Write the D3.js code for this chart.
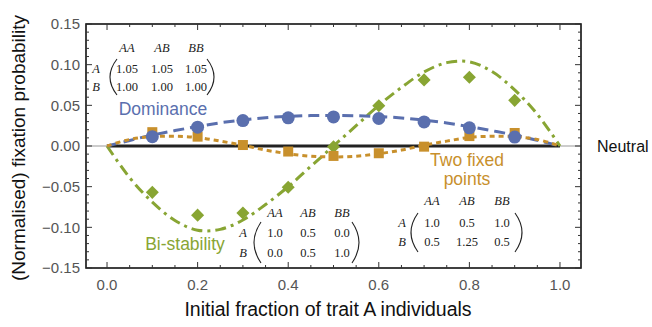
<!DOCTYPE html>
<html lang="en">
	<head>
		<meta charset="utf-8">
		<title>Fixation probability</title>
		<script type="text/javascript" src="https://cdnjs.cloudflare.com/ajax/libs/d3/7.8.5/d3.min.js"></script>
		<style type="text/css">
			body { margin: 0; background: white; }
			text { font-family: "Liberation Sans", Arial, sans-serif; }
			.mat text { font-family: "Liberation Serif", "DejaVu Serif", serif; font-size: 12.5px; fill: #222; }
		</style>
	</head>
	<body>
		<script type="text/javascript">

			//Size
			var w = 652;
			var h = 327;

			// simulation points (x = 0.1 .. 0.9)
			var simX = [0.1, 0.2, 0.3, 0.4, 0.5, 0.6, 0.7, 0.8, 0.9];
			var domPts = [0.0115, 0.0232, 0.0313, 0.0346, 0.0358, 0.0338, 0.0296, 0.0224, 0.0110];
			var twoPts = [0.0170, 0.0115, 0.0012, -0.0068, -0.0122, -0.0089, -0.0008, 0.0122, 0.0160];
			var biPts  = [-0.0570, -0.0850, -0.0824, -0.0507, -0.0010, 0.0496, 0.0813, 0.0846, 0.0561];

			// theory curves, read at steps of 0.05
			var curveX = [0, 0.05, 0.1, 0.15, 0.2, 0.25, 0.3, 0.35, 0.4, 0.45, 0.5,
			              0.55, 0.6, 0.65, 0.7, 0.75, 0.8, 0.85, 0.9, 0.95, 1];
			var domCurve = [0, 0.0068, 0.0135, 0.019, 0.024, 0.0285, 0.032, 0.0348, 0.0365, 0.0374, 0.0376,
			                0.0372, 0.0362, 0.0345, 0.0318, 0.0283, 0.0238, 0.0188, 0.0135, 0.0070, 0];
			var twoCurve = [0, 0.008, 0.0115, 0.012, 0.0105, 0.006, 0.001, -0.005, -0.0095, -0.0125, -0.0135,
			                -0.0125, -0.0095, -0.005, 0.001, 0.006, 0.0105, 0.012, 0.0115, 0.008, 0];
			var biCurve  = [0, -0.039, -0.069, -0.0915, -0.1035, -0.1025, -0.091, -0.072, -0.05, -0.025, 0,
			                0.025, 0.05, 0.072, 0.091, 0.1025, 0.1035, 0.0915, 0.069, 0.039, 0];

			var xTicks = [0, 0.2, 0.4, 0.6, 0.8, 1.0];
			var yTicks = [-0.15, -0.10, -0.05, 0, 0.05, 0.10, 0.15];

			var blue = '#5a6fae', orange = '#c8902c', green = '#88a533';

			var xScale = d3.scaleLinear()
							.domain([-0.0464, 1.0464])
							.range([86, 581]);
			var yScale = d3.scaleLinear()
							.domain([-0.15, 0.15])
							.range([268, 24]);

			var svg = d3.select('body')
							.append('svg')
							.attr('width', w)
							.attr('height', h);

			// thin zero line across the frame
			svg.append('line')
				.attr('x1', xScale.range()[0]).attr('x2', xScale.range()[1])
				.attr('y1', yScale(0)).attr('y2', yScale(0))
				.attr('stroke', '#999').attr('stroke-width', 1);

			var line = d3.line()
							.x((d, i) => xScale(curveX[i]))
							.y(d => yScale(d))
							.curve(d3.curveCatmullRom);

			// neutral
			svg.append('line')
				.attr('x1', xScale(0)).attr('x2', xScale(1))
				.attr('y1', yScale(0)).attr('y2', yScale(0))
				.attr('stroke', '#222').attr('stroke-width', 3.2);

			svg.append('path').datum(biCurve)
				.attr('d', line).attr('fill', 'none')
				.attr('stroke', green).attr('stroke-width', 3)
				.attr('stroke-dasharray', '11,5,3,5');
			svg.append('path').datum(domCurve)
				.attr('d', line).attr('fill', 'none')
				.attr('stroke', blue).attr('stroke-width', 3)
				.attr('stroke-dasharray', '11,6');
			svg.append('path').datum(twoCurve)
				.attr('d', line).attr('fill', 'none')
				.attr('stroke', orange).attr('stroke-width', 3)
				.attr('stroke-dasharray', '5,4');

			// markers
			svg.append('g').attr('fill', green)
				.selectAll('path').data(biPts).enter().append('path')
				.attr('d', d3.symbol(d3.symbolSquare, 85))
				.attr('transform', (d, i) => `translate(${xScale(simX[i])},${yScale(d)}) rotate(45)`);
			svg.append('g').attr('fill', orange)
				.selectAll('rect').data(twoPts).enter().append('rect')
				.attr('x', (d, i) => xScale(simX[i]) - 5)
				.attr('y', d => yScale(d) - 5)
				.attr('width', 10).attr('height', 10);
			svg.append('g').attr('fill', blue)
				.selectAll('circle').data(domPts).enter().append('circle')
				.attr('cx', (d, i) => xScale(simX[i]))
				.attr('cy', d => yScale(d))
				.attr('r', 6.5);

			// frame with inward ticks
			var frame = svg.append('g');
			frame.append('rect')
				.attr('x', 86).attr('y', 24)
				.attr('width', 581 - 86).attr('height', 268 - 24)
				.attr('fill', 'none').attr('stroke', '#111').attr('stroke-width', 1.6);

			var xMinor = d3.range(0, 1.0001, 0.05);
			var yMinor = d3.range(-0.15, 0.15001, 0.01);
			frame.selectAll('.xt').data(xMinor).enter().append('line')
				.attr('x1', d => xScale(d)).attr('x2', d => xScale(d))
				.attr('y1', 268).attr('y2', (d, i) => 268 - (i % 4 == 0 ? 6 : 3))
				.attr('stroke', '#333');
			frame.selectAll('.xtt').data(xMinor).enter().append('line')
				.attr('x1', d => xScale(d)).attr('x2', d => xScale(d))
				.attr('y1', 24).attr('y2', (d, i) => 24 + (i % 4 == 0 ? 6 : 3))
				.attr('stroke', '#333');
			frame.selectAll('.yt').data(yMinor).enter().append('line')
				.attr('y1', d => yScale(d)).attr('y2', d => yScale(d))
				.attr('x1', 86).attr('x2', (d, i) => 86 + (i % 5 == 0 ? 6 : 3))
				.attr('stroke', '#333');
			frame.selectAll('.ytr').data(yMinor).enter().append('line')
				.attr('y1', d => yScale(d)).attr('y2', d => yScale(d))
				.attr('x1', 581).attr('x2', (d, i) => 581 - (i % 5 == 0 ? 6 : 3))
				.attr('stroke', '#333');

			// tick labels
			svg.append('g').attr('fill', '#555').attr('font-size', 15).attr('text-anchor', 'middle')
				.selectAll('text').data(xTicks).enter().append('text')
				.attr('x', d => xScale(d)).attr('y', 290)
				.text(d => d3.format('.1f')(d));
			svg.append('g').attr('fill', '#555').attr('font-size', 15).attr('text-anchor', 'end')
				.selectAll('text').data(yTicks).enter().append('text')
				.attr('x', 80).attr('y', d => yScale(d)).attr('dy', '0.35em')
				.text(d => d3.format('.2f')(d).replace('-', '\u2212'));

			// axis titles
			svg.append('text').attr('x', 328).attr('y', 316).attr('text-anchor', 'middle')
				.attr('font-size', 19.5).attr('fill', '#111')
				.text('Initial fraction of trait A individuals');
			svg.append('text').attr('transform', 'translate(25,148) rotate(-90)').attr('text-anchor', 'middle')
				.attr('font-size', 19).attr('fill', '#111')
				.text('(Normalised) fixation probability');

			// curve labels
			svg.append('text').attr('x', 163).attr('y', 115).attr('text-anchor', 'middle')
				.attr('font-size', 17.5).attr('fill', blue).text('Dominance');
			svg.append('text').attr('x', 467).attr('y', 166).attr('text-anchor', 'middle')
				.attr('font-size', 17.5).attr('fill', orange).text('Two fixed');
			svg.append('text').attr('x', 467).attr('y', 185).attr('text-anchor', 'middle')
				.attr('font-size', 17.5).attr('fill', orange).text('points');
			svg.append('text').attr('x', 185).attr('y', 250).attr('text-anchor', 'middle')
				.attr('font-size', 17.5).attr('fill', green).text('Bi-stability');
			svg.append('text').attr('x', 597).attr('y', 152)
				.attr('font-size', 16).attr('fill', '#111').text('Neutral');

			// payoff matrices
			var colHead = ['AA', 'AB', 'BB'];
			var rowHead = ['A', 'B'];
			var domMat = [['1.05', '1.05', '1.05'], ['1.00', '1.00', '1.00']];
			var twoMat = [['1.0', '0.5', '1.0'], ['0.5', '1.25', '0.5']];
			var biMat  = [['1.0', '0.5', '0.0'], ['0.0', '0.5', '1.0']];

			function matrix(vals, cols, rowX, ys, lp, rp, top, bot) {
				var g = svg.append('g').attr('class', 'mat');
				g.selectAll('.h').data(colHead).enter().append('text')
					.attr('x', (d, i) => cols[i]).attr('y', ys[0])
					.attr('text-anchor', 'middle').attr('font-style', 'italic').text(d => d);
				g.selectAll('.r').data(rowHead).enter().append('text')
					.attr('x', rowX).attr('y', (d, i) => ys[i + 1])
					.attr('text-anchor', 'middle').attr('font-style', 'italic').text(d => d);
				vals.forEach((row, j) => {
					g.selectAll('.v' + j).data(row).enter().append('text')
						.attr('x', (d, i) => cols[i]).attr('y', ys[j + 1])
						.attr('text-anchor', 'middle').text(d => d);
				});
				var mid = (top + bot) / 2;
				g.append('path')
					.attr('d', `M${lp + 7},${top} Q${lp - 7},${mid} ${lp + 7},${bot}`)
					.attr('fill', 'none').attr('stroke', '#222').attr('stroke-width', 1.1);
				g.append('path')
					.attr('d', `M${rp - 7},${top} Q${rp + 7},${mid} ${rp - 7},${bot}`)
					.attr('fill', 'none').attr('stroke', '#222').attr('stroke-width', 1.1);
			}
			matrix(domMat, [127, 162, 196], 96, [52, 73, 91], 110, 214, 59, 95);
			matrix(twoMat, [432, 467, 502], 402, [205, 227, 246], 411, 522, 213, 252);
			matrix(biMat, [275, 308, 342], 243, [217, 237, 257], 254, 359, 222, 263);
		</script>
	</body>
</html>
